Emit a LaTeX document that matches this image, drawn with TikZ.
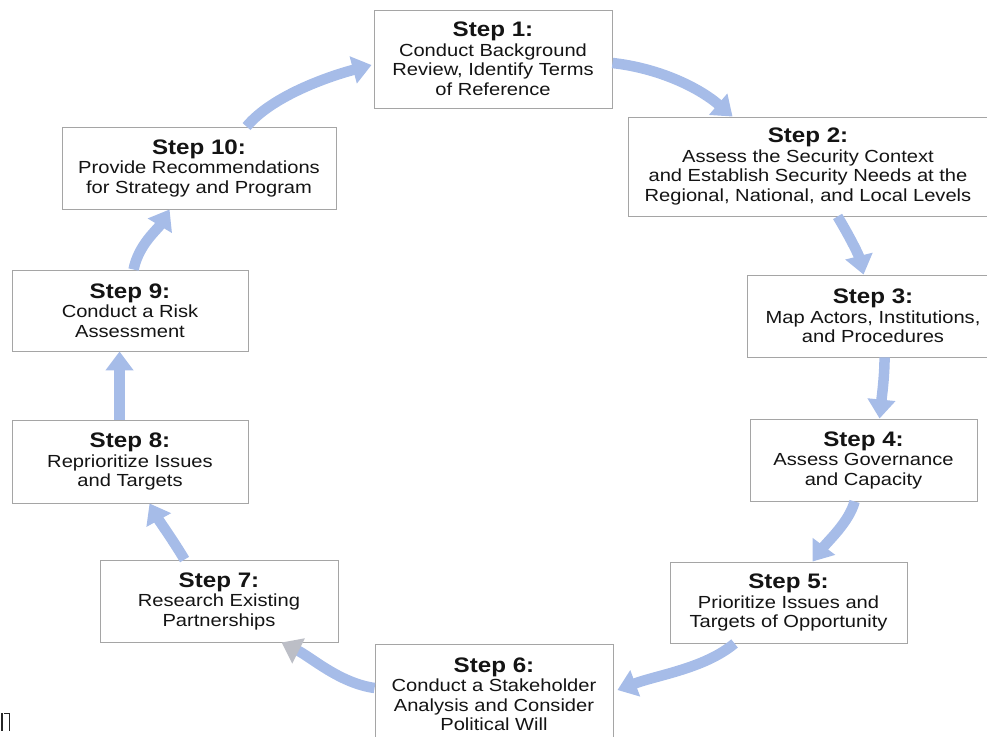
\documentclass[tikz,border=0pt]{standalone}
\usepackage{fontspec}
\setmainfont{Liberation Sans}[FakeStretch=1.15]
\usetikzlibrary{arrows.meta,calc}
\definecolor{arrowblue}{RGB}{166,188,232}
\definecolor{headgray}{RGB}{188,190,198}
\definecolor{boxline}{RGB}{165,165,165}
\definecolor{txt}{RGB}{20,20,20}
\newcommand{\steptitle}[1]{{\bfseries\fontsize{21}{21}\selectfont #1}}
\begin{document}
\begin{tikzpicture}[x=1pt,y=-1pt,
  stepbox/.style={draw=boxline,line width=0.9pt,fill=white,align=center,inner sep=0pt,text=txt,font=\fontsize{17.5}{19.5}\selectfont},
  flow/.style={draw=arrowblue,line width=10.5pt,-{Triangle[width=27pt,length=19pt]}}
]
\useasboundingbox (0,0) rectangle (987,736);
\begin{scope}
\clip (0,0) rectangle (987,736);
\node[stepbox,minimum width=238pt,minimum height=98pt] (s1) at (493,59)
  {\steptitle{Step 1:}\\Conduct Background\\Review, Identify Terms\\of Reference};
\node[stepbox,minimum width=360pt,minimum height=99pt] (s2) at (808,166.5)
  {\steptitle{Step 2:}\\Assess the Security Context\\and Establish Security Needs at the\\Regional, National, and Local Levels};
\node[stepbox,minimum width=252pt,minimum height=82pt] (s3) at (873,316)
  {\steptitle{Step 3:}\\Map Actors, Institutions,\\and Procedures};
\node[stepbox,minimum width=227pt,minimum height=82pt] (s4) at (863.5,460)
  {\steptitle{Step 4:}\\Assess Governance\\and Capacity};
\node[stepbox,minimum width=237pt,minimum height=81pt] (s5) at (788.5,602.5)
  {\steptitle{Step 5:}\\Prioritize Issues and\\Targets of Opportunity};
\node[stepbox,minimum width=238pt,minimum height=100pt] (s6) at (494,694)
  {\steptitle{Step 6:}\\Conduct a Stakeholder\\Analysis and Consider\\Political Will};
\node[stepbox,minimum width=238pt,minimum height=82pt] (s7) at (219,601)
  {\steptitle{Step 7:}\\Research Existing\\Partnerships};
\node[stepbox,minimum width=236pt,minimum height=83pt] (s8) at (130,461.5)
  {\steptitle{Step 8:}\\Reprioritize Issues\\and Targets};
\node[stepbox,minimum width=236pt,minimum height=81pt] (s9) at (130,310.5)
  {\steptitle{Step 9:}\\Conduct a Risk\\Assessment};
\node[stepbox,minimum width=274pt,minimum height=82pt] (s10) at (199,168)
  {\steptitle{Step 10:}\\Provide Recommendations\\for Strategy and Program};

\draw[flow] ($(s1.east)+(0,4)$) .. controls +(45,5) and +(-35,-30) .. ($(s2.north west)+(105,0)$);
\draw[flow] ($(s2.south west)+(210,0)$) .. controls +(12,20) and +(-5,-20) .. ($(s3.north west)+(117,0)$);
\draw[flow] ($(s3.south west)+(138,0)$) .. controls +(0,20) and +(2,-20) .. ($(s4.north west)+(130,0)$);
\draw[flow] ($(s4.south west)+(105,0)$) .. controls +(-5,20) and +(15,-20) .. ($(s5.north west)+(143,0)$);
\draw[flow] ($(s5.south west)+(65,0)$) .. controls +(-30,25) and +(40,-15) .. ($(s6.east)+(4,-4)$);
\draw[flow,-{Triangle[width=27pt,length=19pt,color=headgray]}] ($(s6.west)+(0,-6)$) .. controls +(-35,-5) and +(30,15) .. ($(s7.south west)+(182,0)$);
\draw[flow] ($(s7.north west)+(85,0)$) .. controls +(-12,-20) and +(10,18) .. ($(s8.south west)+(138,0)$);
\draw[flow] ($(s8.north west)+(108,0)$) -- ($(s9.south west)+(108,0)$);
\draw[flow] ($(s9.north west)+(122,0)$) .. controls +(5,-25) and +(-12,20) .. ($(s10.south west)+(108,0)$);
\draw[flow] ($(s10.north west)+(185,0)$) .. controls +(25,-30) and +(-45,12) .. ($(s1.west)+(-2,6)$);

\draw[line width=2pt,black!85] (1.5,713) -- (1.5,731);
\draw[line width=1pt,black!85] (4,713.5) -- (9,713.5) -- (9,731);
\end{scope}
\end{tikzpicture}
\end{document}
